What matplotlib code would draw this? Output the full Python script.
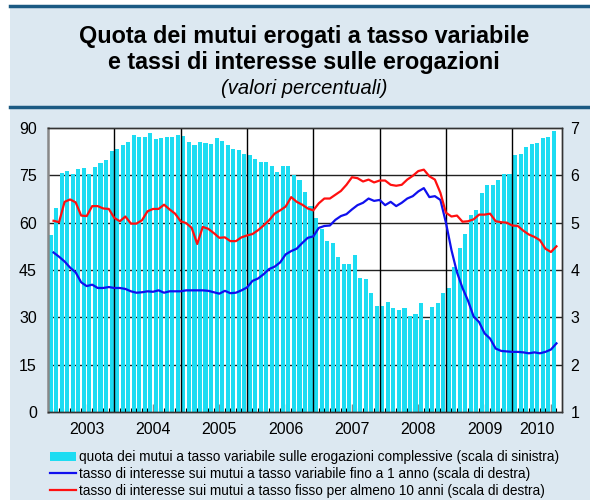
import numpy as np
import matplotlib
matplotlib.use('Agg')
import matplotlib.pyplot as plt
from matplotlib.patches import Rectangle
from matplotlib.lines import Line2D
import matplotlib.transforms as mtransforms

plt.rcParams['font.family'] = ['Liberation Sans', 'DejaVu Sans']

# monthly data, Jan 2003 - Aug 2010
years = ['2003', '2004', '2005', '2006', '2007', '2008', '2009', '2010']

quota_variabile = [
    56.0, 64.8, 75.8, 76.4, 75.4, 77.0, 77.3, 75.4, 77.6, 78.9, 79.8, 82.6,
    83.2, 84.5, 85.7, 87.9, 87.1, 87.3, 88.5, 86.4, 86.7, 87.3, 87.3, 87.9,
    87.4, 85.7, 84.5, 85.7, 85.1, 84.8, 86.7, 86.0, 84.5, 83.5, 82.9, 81.9,
    81.3, 80.3, 79.1, 79.1, 77.8, 76.2, 77.8, 78.1, 75.0, 73.4, 69.6, 65.2,
    61.6, 58.1, 54.3, 53.4, 49.0, 47.0, 47.0, 49.9, 42.6, 42.3, 37.8, 33.7,
    33.7, 35.0, 33.1, 32.4, 32.8, 30.5, 30.9, 34.4, 29.0, 33.4, 34.7, 37.8,
    39.4, 46.0, 51.9, 56.4, 62.4, 64.0, 69.3, 71.8, 71.8, 73.4, 75.3, 75.3,
    81.3, 81.9, 84.1, 84.8, 85.4, 86.7, 87.3, 88.9,
]

tasso_variabile = [
    4.37, 4.28, 4.18, 4.05, 3.95, 3.74, 3.66, 3.69, 3.62, 3.62, 3.64, 3.62,
    3.62, 3.60, 3.55, 3.52, 3.53, 3.55, 3.54, 3.57, 3.52, 3.55, 3.55, 3.55,
    3.57, 3.57, 3.57, 3.57, 3.56, 3.53, 3.50, 3.56, 3.51, 3.52, 3.57, 3.63,
    3.77, 3.82, 3.91, 4.02, 4.07, 4.16, 4.33, 4.40, 4.45, 4.57, 4.68, 4.71,
    4.89, 4.93, 4.94, 5.06, 5.14, 5.18, 5.28, 5.37, 5.42, 5.51, 5.46, 5.48,
    5.37, 5.44, 5.35, 5.42, 5.51, 5.56, 5.66, 5.73, 5.54, 5.56, 5.48, 5.00,
    4.42, 3.95, 3.62, 3.35, 3.02, 2.90, 2.66, 2.55, 2.34, 2.29, 2.28, 2.27,
    2.27, 2.26, 2.24, 2.26, 2.24, 2.27, 2.32, 2.45,
]

tasso_fisso = [
    5.04, 5.01, 5.44, 5.49, 5.43, 5.15, 5.14, 5.35, 5.35, 5.30, 5.29, 5.10,
    5.03, 5.13, 4.98, 4.98, 5.05, 5.24, 5.29, 5.29, 5.38, 5.28, 5.19, 5.03,
    4.99, 4.89, 4.55, 4.91, 4.87, 4.78, 4.68, 4.69, 4.61, 4.61, 4.69, 4.73,
    4.76, 4.84, 4.94, 5.05, 5.19, 5.26, 5.34, 5.54, 5.44, 5.38, 5.30, 5.26,
    5.41, 5.51, 5.51, 5.59, 5.67, 5.80, 5.96, 5.94, 5.87, 5.91, 5.85, 5.89,
    5.89, 5.80, 5.78, 5.80, 5.91, 5.99, 6.09, 6.12, 5.98, 5.91, 5.63, 5.21,
    5.13, 5.15, 5.02, 5.03, 5.07, 5.17, 5.17, 5.19, 5.03, 5.01, 5.00, 4.94,
    4.93, 4.83, 4.75, 4.70, 4.63, 4.45, 4.38, 4.50,
]

legend_labels = [
    'quota dei mutui a tasso variabile sulle erogazioni complessive (scala di sinistra)',
    'tasso di interesse sui mutui a tasso variabile fino a 1 anno (scala di destra)',
    'tasso di interesse sui mutui a tasso fisso per almeno 10 anni (scala di destra)',
]

bar_color = '#1ddcf2'
bg_color = '#dce8f1'
dark_blue = '#1b5a83'

n = len(quota_variabile)
x = np.arange(n)

fig = plt.figure(figsize=(5.9, 5.0), dpi=100, facecolor='white')

# background panel and header lines
fig.patches.append(Rectangle((10 / 590, 0), 1, 493 / 500, transform=fig.transFigure,
                             facecolor=bg_color, edgecolor='none', zorder=-10))
fig.lines.append(Line2D([10 / 590, 1], [494 / 500, 494 / 500], transform=fig.transFigure,
                        color=dark_blue, lw=2.5))
fig.lines.append(Line2D([10 / 590, 1], [393 / 500, 393 / 500], transform=fig.transFigure,
                        color=dark_blue, lw=2.5))

fig.text(0.515, 464 / 500, 'Quota dei mutui erogati a tasso variabile', ha='center', va='center',
         fontsize=16.8, fontweight='bold')
fig.text(0.515, 438 / 500, 'e tassi di interesse sulle erogazioni', ha='center', va='center',
         fontsize=16.8, fontweight='bold')
fig.text(0.515, 412 / 500, '(valori percentuali)', ha='center', va='center',
         fontsize=14.5, style='italic')

ax = fig.add_axes([48 / 590, 88 / 500, 514 / 590, 284 / 500])
ax.set_facecolor('white')
ax2 = ax.twinx()

ax.bar(x, quota_variabile, width=0.74, color=bar_color, zorder=2)
ax.set_xlim(-0.5, n + 0.5)
ax.set_ylim(0, 90)
ax.set_yticks(np.arange(0, 91, 15))
for v in range(15, 90, 15):
    ax.axhline(v, color='#222222', lw=1.0, zorder=1)

# year boundaries
for k in range(1, len(years)):
    ax.axvline(12 * k - 0.5, color='black', lw=1.0, zorder=3)

# month ticks
ax.set_xticks(x + 0.5, minor=True)
ax.set_xticks([12 * k + 6.5 for k in range(len(years))])
ax.set_xticklabels([])
ax.tick_params(axis='x', which='minor', direction='in', length=3, width=0.8, color='black')
ax.tick_params(axis='x', which='major', direction='in', length=6, width=1.0, color='#888888')
ax.tick_params(axis='y', length=0, labelsize=11.5, pad=8)

trans = mtransforms.blended_transform_factory(ax.transData, ax.transAxes)
for k, yr in enumerate(years):
    months = min(12, n - 12 * k)
    pos = 12 * k + 6.5 if months == 12 else 12 * k + (months - 1) / 2 + 0.5
    ax.text(pos, -0.06, yr, transform=trans, ha='center', va='center', fontsize=11.5)

ax2.plot(x + 0.5, tasso_variabile, color='#1010ee', lw=1.6, zorder=4)
ax2.plot(x + 0.5, tasso_fisso, color='#ff1010', lw=1.6, zorder=4)
ax2.set_ylim(1, 7)
ax2.set_yticks(range(1, 8))
ax2.tick_params(axis='y', length=0, labelsize=11.5, pad=6)

for a in (ax, ax2):
    for s in a.spines.values():
        s.set_color('#333333')
        s.set_linewidth(1.0)
ax.spines['left'].set_color('#888888')
ax.spines['left'].set_linewidth(1.8)
ax2.spines['left'].set_visible(False)

# legend
handles = [
    Rectangle((0, 0), 1, 1, facecolor=bar_color, edgecolor='none'),
    Line2D([0], [0], color='#1010ee', lw=1.6),
    Line2D([0], [0], color='#ff1010', lw=1.6),
]
fig.legend(handles, legend_labels, loc='upper left', bbox_to_anchor=(45 / 590, 55 / 500),
           frameon=False, fontsize=9.8, handlelength=1.9, handletextpad=0.2,
           labelspacing=0.2, borderaxespad=0)

fig.savefig('out.png', dpi=100, facecolor='white')
